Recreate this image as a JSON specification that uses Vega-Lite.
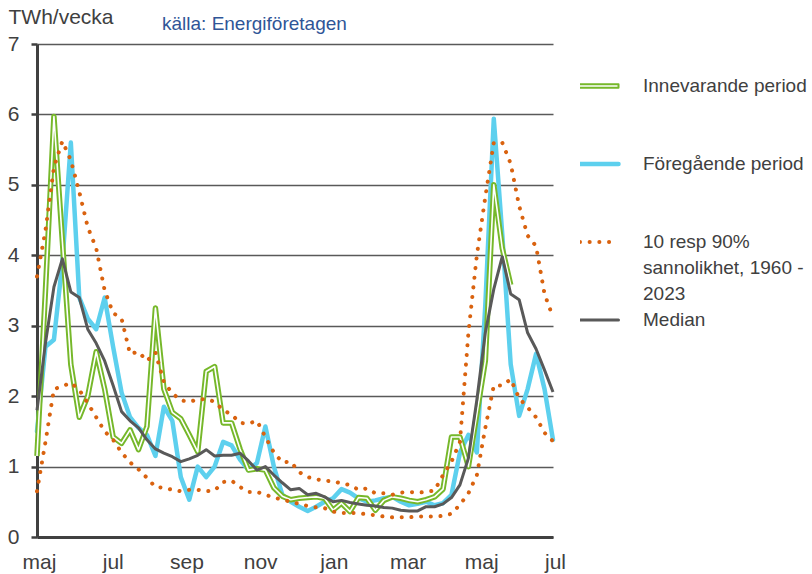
{
  "$schema": "https://vega.github.io/schema/vega-lite/v6.json",
  "width": 516,
  "height": 493,
  "autosize": {"type": "none"},
  "padding": {"left": 37, "top": 44, "right": 259, "bottom": 37},
  "background": "white",
  "title": {
    "text": "källa: Energiföretagen",
    "anchor": "start",
    "frame": "group",
    "orient": "top",
    "font": "Liberation Sans",
    "fontSize": 19,
    "fontWeight": "normal",
    "color": "#2F5597",
    "dx": 125,
    "dy": 43,
    "offset": 0,
    "baseline": "alphabetic"
  },
  "config": {
    "view": {"stroke": null},
    "font": "Liberation Sans",
    "axisY": {
      "titleAngle": 0,
      "titleAlign": "left",
      "titleBaseline": "alphabetic",
      "titleX": -29,
      "titleY": -21,
      "titleFontSize": 21,
      "titleFontWeight": "normal",
      "titleColor": "#404040",
      "grid": true,
      "gridColor": "#595959",
      "gridWidth": 1.6,
      "domainColor": "#404040",
      "domainWidth": 3,
      "tickColor": "#404040",
      "tickWidth": 2.5,
      "tickSize": 6,
      "labelFontSize": 21,
      "labelColor": "#404040",
      "labelPadding": 12,
      "labelFlush": false
    }
  },
  "data": {
    "values": [
      {"v": 0, "inn": 1.15, "fg": 1.5, "p90": 3.7, "p10": 0.65, "med": 1.8},
      {"v": 1, "inn": 3.5, "fg": 2.7, "p90": 4.35, "p10": 1.35, "med": 2.75},
      {"v": 2, "inn": 5.97, "fg": 2.8, "p90": 5.25, "p10": 2.1, "med": 3.55},
      {"v": 3, "inn": 4.2, "fg": 3.9, "p90": 5.62, "p10": 2.14, "med": 3.95},
      {"v": 4, "inn": 2.45, "fg": 5.6, "p90": 5.35, "p10": 2.19, "med": 3.48},
      {"v": 5, "inn": 1.7, "fg": 3.4, "p90": 4.9, "p10": 2.09, "med": 3.4},
      {"v": 6, "inn": 2.0, "fg": 3.1, "p90": 4.4, "p10": 1.9, "med": 2.95},
      {"v": 7, "inn": 2.63, "fg": 2.95, "p90": 4.1, "p10": 1.7, "med": 2.75},
      {"v": 8, "inn": 2.1, "fg": 3.4, "p90": 3.5, "p10": 1.5, "med": 2.5},
      {"v": 9, "inn": 1.42, "fg": 2.7, "p90": 3.18, "p10": 1.38, "med": 2.15},
      {"v": 10, "inn": 1.33, "fg": 2.05, "p90": 3.1, "p10": 1.2, "med": 1.78},
      {"v": 11, "inn": 1.52, "fg": 1.7, "p90": 2.6, "p10": 1.06, "med": 1.65},
      {"v": 12, "inn": 1.24, "fg": 1.55, "p90": 2.63, "p10": 0.96, "med": 1.55},
      {"v": 13, "inn": 1.57, "fg": 1.45, "p90": 2.5, "p10": 0.84, "med": 1.38},
      {"v": 14, "inn": 3.25, "fg": 1.15, "p90": 2.62, "p10": 0.71, "med": 1.25},
      {"v": 15, "inn": 2.1, "fg": 1.85, "p90": 2.2, "p10": 0.7, "med": 1.19},
      {"v": 16, "inn": 1.77, "fg": 1.65, "p90": 2.04, "p10": 0.67, "med": 1.14},
      {"v": 17, "inn": 1.68, "fg": 0.85, "p90": 1.94, "p10": 0.65, "med": 1.07},
      {"v": 18, "inn": 1.45, "fg": 0.53, "p90": 1.92, "p10": 0.67, "med": 1.11},
      {"v": 19, "inn": 1.21, "fg": 1.0, "p90": 1.95, "p10": 0.67, "med": 1.16},
      {"v": 20, "inn": 2.35, "fg": 0.85, "p90": 1.96, "p10": 0.65, "med": 1.24},
      {"v": 21, "inn": 2.42, "fg": 1.0, "p90": 1.92, "p10": 0.66, "med": 1.15},
      {"v": 22, "inn": 1.62, "fg": 1.35, "p90": 1.8, "p10": 0.78, "med": 1.16},
      {"v": 23, "inn": 1.62, "fg": 1.3, "p90": 1.74, "p10": 0.8, "med": 1.16},
      {"v": 24, "inn": 1.25, "fg": 1.1, "p90": 1.62, "p10": 0.71, "med": 1.19},
      {"v": 25, "inn": 0.95, "fg": 0.95, "p90": 1.61, "p10": 0.64, "med": 1.08},
      {"v": 26, "inn": 0.97, "fg": 1.05, "p90": 1.65, "p10": 0.64, "med": 0.95},
      {"v": 27, "inn": 0.95, "fg": 1.57, "p90": 1.42, "p10": 0.6, "med": 1.0},
      {"v": 28, "inn": 0.7, "fg": 1.0, "p90": 1.2, "p10": 0.56, "med": 0.88},
      {"v": 29, "inn": 0.58, "fg": 0.6, "p90": 1.06, "p10": 0.53, "med": 0.77},
      {"v": 30, "inn": 0.53, "fg": 0.5, "p90": 1.07, "p10": 0.5, "med": 0.67},
      {"v": 31, "inn": 0.55, "fg": 0.43, "p90": 0.92, "p10": 0.47, "med": 0.69},
      {"v": 32, "inn": 0.56, "fg": 0.37, "p90": 0.85, "p10": 0.44, "med": 0.6},
      {"v": 33, "inn": 0.57, "fg": 0.43, "p90": 0.82, "p10": 0.42, "med": 0.62},
      {"v": 34, "inn": 0.55, "fg": 0.5, "p90": 0.8, "p10": 0.41, "med": 0.57},
      {"v": 35, "inn": 0.38, "fg": 0.55, "p90": 0.79, "p10": 0.36, "med": 0.5},
      {"v": 36, "inn": 0.48, "fg": 0.68, "p90": 0.76, "p10": 0.34, "med": 0.52},
      {"v": 37, "inn": 0.36, "fg": 0.63, "p90": 0.74, "p10": 0.34, "med": 0.49},
      {"v": 38, "inn": 0.56, "fg": 0.55, "p90": 0.67, "p10": 0.34, "med": 0.47},
      {"v": 39, "inn": 0.55, "fg": 0.5, "p90": 0.69, "p10": 0.32, "med": 0.45},
      {"v": 40, "inn": 0.38, "fg": 0.52, "p90": 0.62, "p10": 0.31, "med": 0.44},
      {"v": 41, "inn": 0.52, "fg": 0.55, "p90": 0.62, "p10": 0.29, "med": 0.42},
      {"v": 42, "inn": 0.57, "fg": 0.57, "p90": 0.6, "p10": 0.28, "med": 0.41},
      {"v": 43, "inn": 0.55, "fg": 0.5, "p90": 0.63, "p10": 0.28, "med": 0.38},
      {"v": 44, "inn": 0.52, "fg": 0.45, "p90": 0.64, "p10": 0.28, "med": 0.37},
      {"v": 45, "inn": 0.5, "fg": 0.47, "p90": 0.63, "p10": 0.29, "med": 0.37},
      {"v": 46, "inn": 0.53, "fg": 0.5, "p90": 0.64, "p10": 0.29, "med": 0.43},
      {"v": 47, "inn": 0.57, "fg": 0.45, "p90": 0.66, "p10": 0.29, "med": 0.43},
      {"v": 48, "inn": 0.68, "fg": 0.48, "p90": 0.88, "p10": 0.3, "med": 0.47},
      {"v": 49, "inn": 1.42, "fg": 0.6, "p90": 1.07, "p10": 0.33, "med": 0.56},
      {"v": 50, "inn": 1.42, "fg": 1.2, "p90": 1.35, "p10": 0.46, "med": 0.74},
      {"v": 51, "inn": 1.0, "fg": 1.45, "p90": 2.9, "p10": 0.62, "med": 1.12},
      {"v": 52, "inn": 1.75, "fg": 1.2, "p90": 4.0, "p10": 0.88, "med": 1.95},
      {"v": 53, "inn": 2.5, "fg": 3.3, "p90": 4.83, "p10": 1.55, "med": 2.9},
      {"v": 54, "inn": 5.0, "fg": 5.94, "p90": 5.6, "p10": 2.15, "med": 3.52},
      {"v": 55, "inn": 4.1, "fg": 4.3, "p90": 5.6, "p10": 2.15, "med": 3.98},
      {"v": 56, "inn": 3.58, "fg": 2.45, "p90": 5.3, "p10": 2.24, "med": 3.45},
      {"v": 57, "inn": null, "fg": 1.72, "p90": 4.7, "p10": 1.97, "med": 3.37},
      {"v": 58, "inn": null, "fg": 2.1, "p90": 4.28, "p10": 1.84, "med": 2.9},
      {"v": 59, "inn": null, "fg": 2.6, "p90": 4.13, "p10": 1.7, "med": 2.67},
      {"v": 60, "inn": null, "fg": 2.1, "p90": 3.45, "p10": 1.48, "med": 2.37},
      {"v": 61, "inn": null, "fg": 1.38, "p90": 3.12, "p10": 1.36, "med": 2.06}
    ]
  },
  "encoding": {
    "x": {
      "field": "v",
      "type": "quantitative",
      "scale": {"domain": [0, 61], "nice": false, "zero": false},
      "axis": {
        "title": null,
        "values": [0, 8.714, 17.429, 26.143, 34.857, 43.571, 52.286, 61],
        "labelExpr": "['maj','jul','sep','nov','jan','mar','maj','jul'][round(datum.value*7/61)]",
        "ticks": false,
        "grid": false,
        "domainColor": "#404040",
        "domainWidth": 3,
        "labelFontSize": 21,
        "labelColor": "#404040",
        "labelPadding": 14,
        "labelOffset": 2,
        "labelFlush": false,
        "labelOverlap": false,
        "labelBound": false
      }
    }
  },
  "layer": [
    {
      "mark": {"type": "line", "strokeWidth": 4.5, "strokeJoin": "round", "strokeCap": "round"},
      "encoding": {
        "y": {
          "field": "fg",
          "type": "quantitative",
          "title": "TWh/vecka",
          "scale": {"domain": [0, 7], "nice": false, "zero": true},
          "axis": {"values": [0, 1, 2, 3, 4, 5, 6, 7], "format": "d"}
        },
        "color": {
          "datum": "Föregående period",
          "type": "nominal",
          "scale": {
            "domain": ["Innevarande period", "Föregående period", "10 resp 90% sannolikhet, 1960 - 2023", "Median"],
            "range": ["#76B82A", "#5DD0EE", "#D9620F", "#595959"]
          },
          "legend": {
            "orient": "none",
            "legendX": 543,
            "legendY": 30,
            "title": null,
            "padding": 0,
            "symbolSize": 3364,
            "symbolType": "stroke",
            "labelFontSize": 19,
            "labelColor": "#404040",
            "labelFont": "Liberation Sans",
            "labelLimit": 300,
            "labelOffset": 44,
            "rowPadding": 0,
            "clipHeight": 78,
            "labelExpr": "datum.value === '10 resp 90% sannolikhet, 1960 - 2023' ? ['10 resp 90%', 'sannolikhet, 1960 -', '2023'] : datum.label",
            "encode": {
              "symbols": {
                "update": {
                  "y": {"value": 12},
                  "shape": {"signal": "datum.value === 'Innevarande period' ? 'M-1,-0.06H1V0.06H-1Z' : 'stroke'"},
                  "fill": {"signal": "datum.value === 'Innevarande period' ? '#ffffff' : 'transparent'"},
                  "strokeWidth": {"signal": "datum.value === 'Innevarande period' ? 2 : datum.value === 'Föregående period' ? 4.5 : datum.value === 'Median' ? 3 : 4"},
                  "strokeDash": {"signal": "datum.value === '10 resp 90% sannolikhet, 1960 - 2023' ? [0.1, 9.6] : [1, 0]"},
                  "strokeCap": {"value": "round"},
                  "strokeJoin": {"value": "round"},
                  "opacity": {"value": 1}
                }
              },
              "labels": {
                "update": {
                  "y": {"value": 12},
                  "lineHeight": {"value": 26}
                }
              }
            }
          }
        }
      }
    },
    {
      "mark": {"type": "line", "strokeWidth": 5.5, "strokeJoin": "round"},
      "encoding": {
        "y": {"field": "inn", "type": "quantitative", "title": "TWh/vecka", "axis": {"values": [0, 1, 2, 3, 4, 5, 6, 7], "format": "d"}},
        "color": {"datum": "Innevarande period", "type": "nominal"}
      }
    },
    {
      "mark": {"type": "line", "strokeWidth": 1.6, "strokeJoin": "round", "color": "#ffffff"},
      "encoding": {
        "y": {"field": "inn", "type": "quantitative", "title": "TWh/vecka", "axis": {"values": [0, 1, 2, 3, 4, 5, 6, 7], "format": "d"}}
      }
    },
    {
      "mark": {"type": "line", "strokeWidth": 4, "strokeDash": [0.1, 9.6], "strokeCap": "round"},
      "encoding": {
        "y": {"field": "p90", "type": "quantitative", "title": "TWh/vecka", "axis": {"values": [0, 1, 2, 3, 4, 5, 6, 7], "format": "d"}},
        "color": {"datum": "10 resp 90% sannolikhet, 1960 - 2023", "type": "nominal"}
      }
    },
    {
      "mark": {"type": "line", "strokeWidth": 4, "strokeDash": [0.1, 9.6], "strokeCap": "round"},
      "encoding": {
        "y": {"field": "p10", "type": "quantitative", "title": "TWh/vecka", "axis": {"values": [0, 1, 2, 3, 4, 5, 6, 7], "format": "d"}},
        "color": {"datum": "10 resp 90% sannolikhet, 1960 - 2023", "type": "nominal"}
      }
    },
    {
      "mark": {"type": "line", "strokeWidth": 3, "strokeJoin": "round"},
      "encoding": {
        "y": {"field": "med", "type": "quantitative", "title": "TWh/vecka", "axis": {"values": [0, 1, 2, 3, 4, 5, 6, 7], "format": "d"}},
        "color": {"datum": "Median", "type": "nominal"}
      }
    }
  ]
}
